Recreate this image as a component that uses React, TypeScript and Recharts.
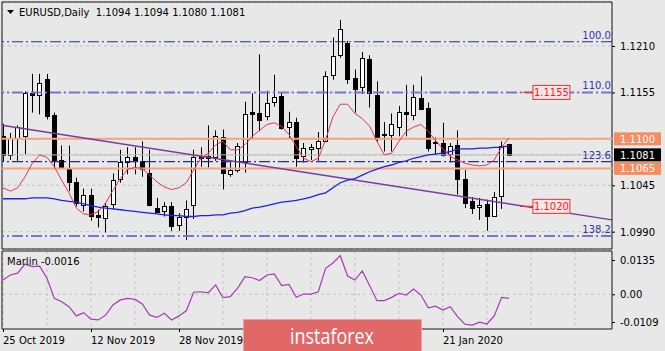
import React from 'react';
import {
  ComposedChart, Bar, Line, XAxis, YAxis, CartesianGrid,
  ReferenceLine, ReferenceDot, ReferenceArea,
} from 'recharts';

// EURUSD daily, 25 Oct 2019 .. 3 Feb 2020 (bar index 0..69)
const opens = [
  1.1103, 1.1081, 1.1101, 1.1103, 1.1154, 1.1152, 1.1171, 1.1128, 1.1075, 1.1066,
  1.1049, 1.1022, 1.1033, 1.1010, 1.1006, 1.1023, 1.1052, 1.1072, 1.1078, 1.1074,
  1.1060, 1.1018, 1.1014, 1.1020, 1.0998, 1.1008, 1.1022, 1.1080, 1.1080, 1.1079,
  1.1102, 1.1058, 1.1063, 1.1072, 1.1132, 1.1131, 1.1127, 1.1144, 1.1151, 1.1114,
  1.1120, 1.1080, 1.1088, 1.1089, 1.1097, 1.1176, 1.1199, 1.1214, 1.1172, 1.1161,
  1.1195, 1.1152, 1.1104, 1.1104, 1.1114, 1.1132, 1.1128, 1.1148, 1.1136, 1.1096,
  1.1095, 1.1082, 1.1093, 1.1053, 1.1026, 1.1019, 1.1023, 1.1009, 1.1032, 1.1094,
];
const highs = [
  1.1118, 1.1107, 1.1116, 1.1156, 1.1177, 1.1177, 1.1177, 1.1131, 1.1092, 1.1092,
  1.1054, 1.1041, 1.1041, 1.1016, 1.1024, 1.1059, 1.1087, 1.1090, 1.1090, 1.1097,
  1.1087, 1.1030, 1.1025, 1.1025, 1.1012, 1.1027, 1.1087, 1.1090, 1.1116, 1.1110,
  1.1111, 1.1072, 1.1095, 1.1144, 1.1154, 1.1200, 1.1157, 1.1176, 1.1155, 1.1132,
  1.1125, 1.1095, 1.1094, 1.1108, 1.1180, 1.1220, 1.1241, 1.1216, 1.1182, 1.1203,
  1.1199, 1.1168, 1.1120, 1.1130, 1.1139, 1.1164, 1.1164, 1.1174, 1.1143, 1.1102,
  1.1119, 1.1095, 1.1110, 1.1063, 1.1031, 1.1030, 1.1028, 1.1037, 1.1097, 1.1094,
];
const lows = [
  1.1073, 1.1075, 1.1074, 1.1082, 1.1131, 1.1129, 1.1123, 1.1065, 1.1064, 1.1038,
  1.1020, 1.1014, 1.1003, 1.0995, 1.0989, 1.1016, 1.1048, 1.1058, 1.1058, 1.1055,
  1.1020, 1.1012, 1.1008, 1.0991, 1.0991, 1.0980, 1.1005, 1.1067, 1.1066, 1.1074,
  1.1040, 1.1055, 1.1060, 1.1060, 1.1101, 1.1109, 1.1122, 1.1138, 1.1111, 1.1101,
  1.1067, 1.1072, 1.1075, 1.1074, 1.1096, 1.1170, 1.1196, 1.1165, 1.1131, 1.1153,
  1.1137, 1.1097, 1.1085, 1.1085, 1.1103, 1.1103, 1.1122, 1.1134, 1.1085, 1.1081,
  1.1079, 1.1072, 1.1034, 1.1018, 1.1011, 1.1004, 1.0991, 1.1008, 1.1017, 1.1080,
];
const closes = [
  1.1081, 1.1101, 1.1114, 1.1154, 1.1152, 1.1166, 1.1127, 1.1075, 1.1067, 1.1049,
  1.1024, 1.1034, 1.1009, 1.1008, 1.1020, 1.1051, 1.1072, 1.1079, 1.1074, 1.1064,
  1.1022, 1.1013, 1.1020, 1.0997, 1.1008, 1.1017, 1.1079, 1.1077, 1.1077, 1.1103,
  1.1059, 1.1063, 1.1092, 1.1130, 1.1130, 1.1122, 1.1143, 1.1149, 1.1113, 1.1120,
  1.1077, 1.1089, 1.1090, 1.1098, 1.1174, 1.1198, 1.1230, 1.1171, 1.1159, 1.1196,
  1.1154, 1.1102, 1.1106, 1.1118, 1.1132, 1.1129, 1.1149, 1.1135, 1.1089, 1.1095,
  1.1081, 1.1092, 1.1053, 1.1024, 1.1018, 1.1022, 1.1009, 1.1031, 1.1091, 1.1081,
];
// red (fast) and blue (slow) moving averages
const fastMa = [
  1.1042, 1.1038, 1.1042, 1.1055, 1.1071, 1.1081, 1.1078, 1.1067, 1.1051, 1.1036,
  1.1018, 1.1011, 1.1010, 1.1014, 1.1024, 1.1039, 1.1053, 1.1064, 1.1066, 1.1065,
  1.1057, 1.1049, 1.1043, 1.1040, 1.1042, 1.1048, 1.1063, 1.1077, 1.1083, 1.1093,
  1.1097, 1.1087, 1.1087, 1.1093, 1.1103, 1.1110, 1.1117, 1.1119, 1.1115, 1.1105,
  1.1091, 1.1077, 1.1073, 1.1077, 1.1099, 1.1126, 1.1141, 1.1141, 1.1130, 1.1124,
  1.1115, 1.1097, 1.1081, 1.1083, 1.1097, 1.1109, 1.1114, 1.1117, 1.1109, 1.1098,
  1.1088, 1.1079, 1.1075, 1.1071, 1.1069, 1.1068, 1.1069, 1.1075, 1.1090, 1.1101,
];
const slowMa = [
  1.1029, 1.1029, 1.1029, 1.1029, 1.1030, 1.1030, 1.1030, 1.1029, 1.1027, 1.1026,
  1.1025, 1.1023, 1.1021, 1.1019, 1.1018, 1.1017, 1.1016, 1.1015, 1.1014, 1.1013,
  1.1012, 1.1011, 1.1010, 1.1009, 1.1009, 1.1008, 1.1008, 1.1009, 1.1009, 1.1010,
  1.1010, 1.1012, 1.1013, 1.1015, 1.1018, 1.1019, 1.1021, 1.1023, 1.1025, 1.1026,
  1.1027, 1.1029, 1.1031, 1.1034, 1.1036, 1.1042, 1.1048, 1.1051, 1.1053, 1.1057,
  1.1061, 1.1064, 1.1067, 1.1069, 1.1072, 1.1074, 1.1077, 1.1079, 1.1081, 1.1082,
  1.1083, 1.1085, 1.1088, 1.1088, 1.1088, 1.1089, 1.1089, 1.1090, 1.1090, 1.1092,
];
const marlinVals = [
  0.0056, 0.0076, 0.0083, 0.0119, 0.0109, 0.0111, 0.0063, -0.0016, -0.0029, -0.0049,
  -0.0085, -0.0072, -0.0098, -0.0101, -0.0082, -0.0042, -0.0022, -0.0016, -0.0020, -0.0038,
  -0.0082, -0.0091, -0.0075, -0.0101, -0.0085, -0.0065, 0.0008, 0.0010, 0.0006, 0.0037,
  -0.0013, -0.0009, 0.0024, 0.0069, 0.0065, 0.0054, 0.0076, 0.0080, 0.0034, 0.0039,
  -0.0012, 0.0001, 0.0001, 0.0010, 0.0102, 0.0123, 0.0152, 0.0072, 0.0056, 0.0092,
  0.0035, -0.0025, -0.0025, -0.0012, 0.0004, -0.0003, 0.0021, -0.0003, -0.0053, -0.0047,
  -0.0062, -0.0049, -0.0088, -0.0118, -0.0121, -0.0110, -0.0117, -0.0085, -0.0012, -0.0016,
];

// date labels that are visible (the ones at 16 Dec and 3 Jan sit under the banner)
const dateTickIdx = [0, 12, 24, 60];
const dateTickLabels = ['25 Oct 2019', '12 Nov 2019', '28 Nov 2019', '21 Jan 2020'];
const gridIdx = [0, 6, 12, 18, 24, 30, 36, 42, 48, 54, 60, 66, 72, 78];

const priceTicks = [1.099, 1.1045, 1.1065, 1.1081, 1.11, 1.1155, 1.121];
const fibLevels = [1.1215, 1.1155, 1.1073, 1.0985];
const fibNames = ['100.0', '110.0', '123.6', '138.2'];
const levelLines = [1.11, 1.1065];
const lastPrice = 1.1081;
const trendStart = 1.1116;
const trendEnd = 1.1004;
const markedPrices = [1.1155, 1.102];
const marlinTicks = [-0.0109, 0, 0.0135];

const X0 = -0.136;
const X1 = 83.06;
const Y0 = 1.09695;
const Y1 = 1.12621;
const M0 = -0.01366;
const M1 = 0.01704;

const FONT = '"DejaVu Sans", Verdana, sans-serif';
const BG = '#e8e8e8';

const rows = opens.map((o, i) => ({
  i, o, h: highs[i], l: lows[i], c: closes[i],
  fast: fastMa[i], slow: slowMa[i], marlin: marlinVals[i],
}));

const Candle = (props: any) => {
  const { x, y, width, height, payload } = props;
  if (!payload) return <g />;
  const top = height < 0 ? y + height : y;
  const h = Math.abs(height);
  const k = h / (payload.h - payload.l);
  const py = (p: number) => top + (payload.h - p) * k;
  const cx = Math.round(x + width / 2) + 0.5;
  const bull = payload.c >= payload.o;
  const bTop = Math.round(py(Math.max(payload.o, payload.c))) + 0.5;
  const bBot = Math.round(py(Math.min(payload.o, payload.c))) + 0.5;
  return (
    <g>
      <line x1={cx} x2={cx} y1={top} y2={top + h} stroke="#000" strokeWidth={1} />
      <rect x={cx - 2} y={bTop} width={4} height={Math.max(bBot - bTop, 1)}
        fill={bull ? '#fff' : '#000'} stroke="#000" strokeWidth={1} />
    </g>
  );
};

const priceBox: Record<string, { fill: string; color: string }> = {
  '1.11': { fill: '#f58d63', color: '#fff' },
  '1.1065': { fill: '#f58d63', color: '#fff' },
  '1.1081': { fill: '#000', color: '#fff' },
};

const renderPriceTick = (props: any) => {
  const { x, y, payload } = props;
  const v = payload.value as number;
  const box = priceBox[String(v)];
  const label = v.toFixed(4);
  if (box) {
    return (
      <g>
        <rect x={x + 2} y={y - 6.5} width={47} height={13} fill={box.fill} />
        <text x={x + 8} y={y + 4} fontSize={10} fontFamily={FONT} fill={box.color}>{label}</text>
      </g>
    );
  }
  return (
    <g>
      <line x1={x} x2={x + 3} y1={y + 0.5} y2={y + 0.5} stroke="#000" />
      <text x={x + 8} y={y + 4} fontSize={10} fontFamily={FONT} fill="#000">{label}</text>
    </g>
  );
};

const renderMarlinTick = (props: any) => {
  const { x, y, payload } = props;
  const v = payload.value as number;
  const label = v === 0 ? '0.00' : v.toFixed(4);
  return (
    <g>
      <line x1={x} x2={x + 3} y1={y + 0.5} y2={y + 0.5} stroke="#000" />
      <text x={x + 8} y={y + 4} fontSize={10} fontFamily={FONT} fill="#000">{label}</text>
    </g>
  );
};

const renderDateTick = (props: any) => {
  const { x, y, payload } = props;
  const k = dateTickIdx.indexOf(payload.value);
  if (k < 0) return <g />;
  const tx = Math.round(x) + 0.5;
  return (
    <g>
      <line x1={tx} x2={tx} y1={y} y2={y + 3} stroke="#000" />
      <text x={x} y={y + 15} fontSize={10} fontFamily={FONT} fill="#000">{dateTickLabels[k]}</text>
    </g>
  );
};

const fibLabel = (name: string) => (props: any) => (
  <text x={props.cx - 1} y={props.cy - 3} textAnchor="end" fontSize={10} fontFamily={FONT} fill="#3434a8">
    {name}
  </text>
);

const markBox = (value: number) => (props: any) => (
  <g>
    <rect x={props.cx - 18.5} y={props.cy - 7} width={37} height={14} fill="#f1e7e7" stroke="#ff2a2a" strokeWidth={1} />
    <text x={props.cx} y={props.cy + 4} textAnchor="middle" fontSize={10} fontFamily={FONT} fill="#ff1a1a">
      {value.toFixed(4)}
    </text>
  </g>
);

const App: React.FC = () => (
  <div style={{ position: 'absolute', left: 0, top: 0, width: 665, height: 351, background: BG, overflow: 'hidden' }}>
    <div style={{ position: 'absolute', left: 0, top: 0 }}>
      <ComposedChart width={665} height={250} data={rows} margin={{ top: 2, right: 0, bottom: 1, left: 2 }}>
        <CartesianGrid stroke="#c2c2c2" strokeDasharray="3 3" />
        <XAxis type="number" dataKey="i" domain={[X0, X1]} allowDataOverflow ticks={gridIdx} interval={0}
          height={0} tick={false} axisLine={false} tickLine={false} />
        <YAxis orientation="right" type="number" domain={[Y0, Y1]} allowDataOverflow ticks={priceTicks}
          interval={0} width={53} axisLine={false} tickLine={false} tickSize={0} tickMargin={0}
          tick={renderPriceTick} />
        {levelLines.map((p) => (
          <ReferenceLine key={p} y={p} stroke="#f7a382" strokeWidth={2} />
        ))}
        <ReferenceLine y={lastPrice} stroke="#bdbdbd" strokeWidth={1} />
        {fibLevels.map((p, k) => (
          <ReferenceLine key={p} y={p} stroke={k % 2 === 0 ? '#2a2a98' : '#7676cc'}
            strokeWidth={k % 2 === 0 ? 1.2 : 2} strokeDasharray="11 3 2 3" />
        ))}
        <ReferenceLine segment={[{ x: X0, y: trendStart }, { x: X1, y: trendEnd }]} stroke="#7a3c9c" strokeWidth={1.5} />
        <ReferenceLine segment={[{ x: 70.9, y: markedPrices[0] }, { x: 72.3, y: markedPrices[0] }]} stroke="#ff2a2a" strokeWidth={1.2} />
        <ReferenceLine segment={[{ x: 70.5, y: markedPrices[1] }, { x: 72.3, y: markedPrices[1] }]} stroke="#ff2a2a" strokeWidth={1.2} />
        <Line dataKey="slow" stroke="#1f1ff2" strokeWidth={1.3} dot={false} isAnimationActive={false} />
        <Line dataKey="fast" stroke="#e3365a" strokeWidth={1} dot={false} isAnimationActive={false} />
        <Bar dataKey={(d: any) => [d.l, d.h]} barSize={5} shape={Candle} isAnimationActive={false} />
        {markedPrices.map((p) => (
          <ReferenceDot key={p} x={74.8} y={p} r={1} shape={markBox(p)} />
        ))}
        {fibLevels.map((p, k) => (
          <ReferenceDot key={p} x={X1 - 0.01} y={p} r={1} shape={fibLabel(fibNames[k])} />
        ))}
        <ReferenceArea x1={X0} x2={X1} y1={Y0} y2={Y1} fill="none" stroke="#1a1a1a" strokeWidth={1} ifOverflow="visible" />
      </ComposedChart>
    </div>
    <div style={{ position: 'absolute', left: 0, top: 250 }}>
      <ComposedChart width={665} height={101} data={rows} margin={{ top: 1, right: 0, bottom: 0, left: 2 }}>
        <CartesianGrid horizontal={false} stroke="#c2c2c2" strokeDasharray="3 3" />
        <XAxis type="number" dataKey="i" domain={[X0, X1]} allowDataOverflow ticks={gridIdx} interval={0}
          height={22} axisLine={false} tickLine={false} tickSize={0} tickMargin={0} tick={renderDateTick} />
        <YAxis orientation="right" type="number" domain={[M0, M1]} allowDataOverflow ticks={marlinTicks}
          interval={0} width={53} axisLine={false} tickLine={false} tickSize={0} tickMargin={0}
          tick={renderMarlinTick} />
        <ReferenceLine y={0} stroke="#c2c2c2" strokeDasharray="3 3" />
        <Line dataKey="marlin" stroke="#a83ab8" strokeWidth={1.2} dot={false} isAnimationActive={false} />
        <ReferenceArea x1={X0} x2={X1} y1={M0} y2={M1} fill="none" stroke="#1a1a1a" strokeWidth={1} ifOverflow="visible" />
      </ComposedChart>
    </div>
    <svg width={665} height={351} style={{ position: 'absolute', left: 0, top: 0, pointerEvents: 'none' }}>
      <path d="M7 10 L14 10 L10.5 14 Z" fill="#000" />
      <text x={19} y={16} fontSize={10} fontFamily={FONT} fill="#000" style={{ whiteSpace: 'pre' }}>
        {'EURUSD,Daily  1.1094 1.1094 1.1080 1.1081'}
      </text>
      <text x={7} y={265} fontSize={10} fontFamily={FONT} fill="#000">Marlin -0.0016</text>
      <rect x={243.5} y={319.5} width={178} height={33} fill="#e26868" stroke="#eea0a0" strokeWidth={1} />
      <text x={290} y={344} fontSize={21} fontFamily='"Open Sans", sans-serif' fill="#fff"
        textLength={84} lengthAdjust="spacingAndGlyphs">instaforex</text>
    </svg>
  </div>
);

export default App;
